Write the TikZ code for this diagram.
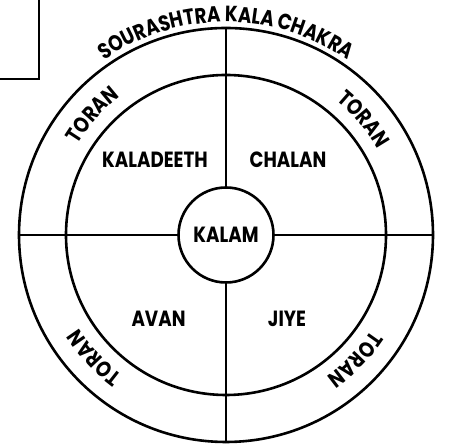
\documentclass[tikz,border=0pt]{standalone}
\usepackage{fontspec}
\newfontfamily\lblfam{Poppins}[FakeStretch=0.83]
\newcommand\lblf{\lblfam\bfseries\fontsize{22}{22}\selectfont}
\usetikzlibrary{decorations.text}
\tikzset{
  ring/.style={circle, draw, line width=2.6pt, inner sep=0pt},
  spoke/.style={line width=2.4pt},
  lbl/.style={font=\lblf, inner sep=0pt, anchor=base},
  arctext/.style={decorate, decoration={text along path, text align=center,
     text={|\lblf|#1}}}
}
\begin{document}
\begin{tikzpicture}[x=1pt,y=1pt]
\useasboundingbox (0,0) rectangle (451,446);
\coordinate (C) at (226,211);
% corner box
\coordinate (b1) at (0,367);
\coordinate (b2) at (39,367);
\coordinate (b3) at (39,446);
\draw[line width=2pt] (b1) -- (b2) -- (b3);
% circles
\node[ring, minimum size=414pt] (outer) at (C) {};
\node[ring, minimum size=320pt] (inner) at (C) {};
\node[ring, minimum size=95pt] (kalam) at (C) {};
% spokes
\draw[spoke] (outer.north) -- (kalam.north);
\draw[spoke] (outer.south) -- (kalam.south);
\draw[spoke] (outer.west) -- (kalam.west);
\draw[spoke] (outer.east) -- (kalam.east);
% labels
\node[lbl] (lkalam) at (226,203.7) {KALAM};
\node[lbl] (lkal) at (155,278) {KALADEETH};
\node[lbl] (lcha) at (288,278) {CHALAN};
\node[lbl] (lavan) at (158.5,119) {AVAN};
\node[lbl] (ljiye) at (287,119) {JIYE};
% curved texts
\path[arctext={SOURASHTRA KALA CHAKRA}] (C) ++(150:213) arc[start angle=150, end angle=30, radius=213];
\path[arctext={TORAN}] (C) ++(168:174) arc[start angle=168, end angle=108, radius=174];
\path[arctext={TORAN}] (C) ++(70:174) arc[start angle=70, end angle=10, radius=174];
\path[arctext={TORAN}] (C) ++(-14:174) arc[start angle=-14, end angle=-74, radius=174];
\path[arctext={TORAN}] (C) ++(-107:174) arc[start angle=-107, end angle=-167, radius=174];
\end{tikzpicture}
\end{document}
